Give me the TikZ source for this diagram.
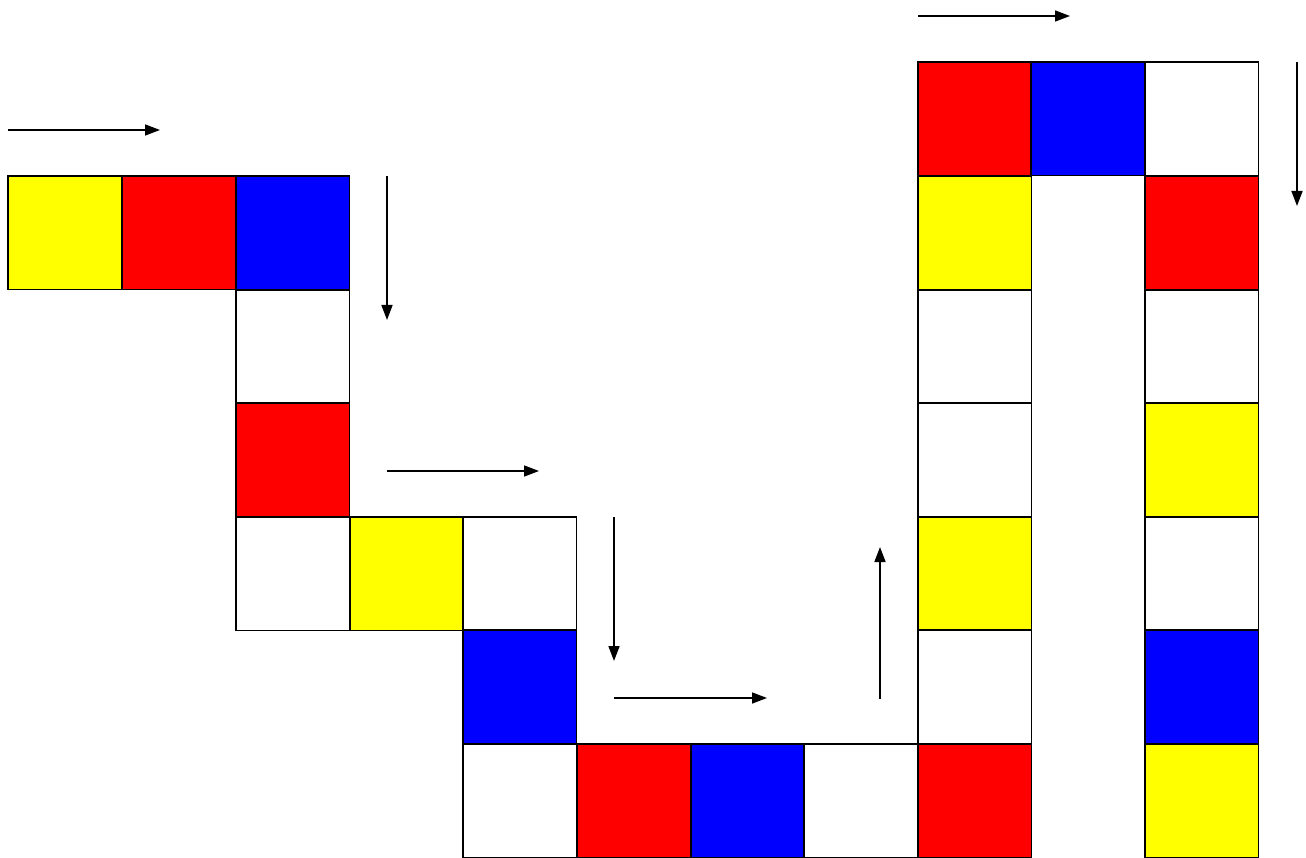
\documentclass[tikz,border=0pt]{standalone}
\usetikzlibrary{arrows.meta}
\definecolor{cR}{HTML}{FF0000}
\definecolor{cB}{HTML}{0000FF}
\definecolor{cY}{HTML}{FFFF00}
\definecolor{cW}{HTML}{FFFFFF}
\tikzset{
  cell/.style={draw=black, line width=1.3pt, minimum width=113.7pt, minimum height=113.7pt, inner sep=0pt, outer sep=0pt, anchor=north west},
  flow/.style={line width=1.6pt, -{Triangle[length=15pt,width=11pt]}}
}
\begin{document}
\begin{tikzpicture}[x=1pt,y=-1pt]
\useasboundingbox (0,0) rectangle (1306,858);
% cells: x, y, colour
\foreach \x/\y/\c [count=\i] in {
  8/176/cY, 122/176/cR, 236/176/cB,
  236/290/cW, 236/403/cR,
  236/517/cW, 350/517/cY, 463/517/cW,
  463/630/cB,
  463/744/cW, 577/744/cR, 691/744/cB, 804/744/cW, 918/744/cR,
  918/62/cR, 918/176/cY, 918/290/cW, 918/403/cW, 918/517/cY, 918/630/cW,
  1031/62/cB,
  1145/62/cW, 1145/176/cR, 1145/290/cW, 1145/403/cY, 1145/517/cW, 1145/630/cB, 1145/744/cY}
{ \node[cell, fill=\c] (c\i) at (\x,\y) {}; }
% arrows
\coordinate (a1s) at (8,130);   \coordinate (a1e) at (160,130);
\coordinate (a2s) at (387,176); \coordinate (a2e) at (387,320);
\coordinate (a3s) at (387,471); \coordinate (a3e) at (539,471);
\coordinate (a4s) at (614,517); \coordinate (a4e) at (614,661);
\coordinate (a5s) at (614,698); \coordinate (a5e) at (767,698);
\coordinate (a6s) at (880,699); \coordinate (a6e) at (880,547);
\coordinate (a7s) at (918,16);  \coordinate (a7e) at (1070,16);
\coordinate (a8s) at (1297,62); \coordinate (a8e) at (1297,206);
\foreach \k in {1,...,8} { \draw[flow] (a\k s) -- (a\k e); }
\end{tikzpicture}
\end{document}
